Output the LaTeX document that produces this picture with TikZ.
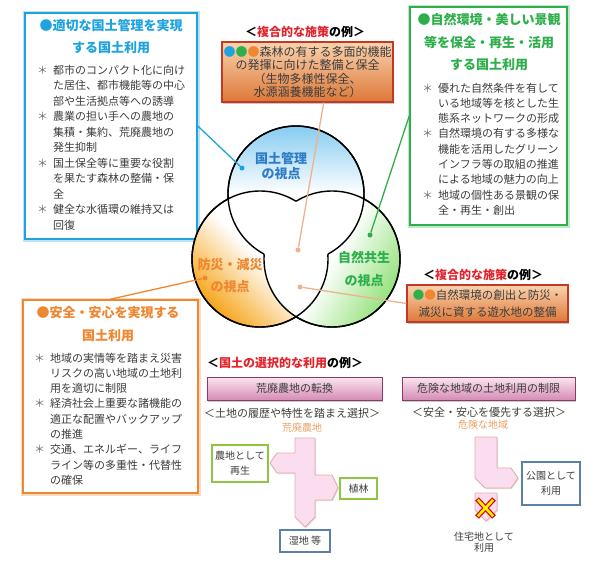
\documentclass[tikz,border=0pt]{standalone}
\usepackage{fontspec}
\setmainfont{Noto Sans CJK JP}
\usetikzlibrary{shadows}

\definecolor{kanriblue}{HTML}{1EA3DE}
\definecolor{kanritext}{HTML}{2F7CC6}
\definecolor{kanrisky}{HTML}{86CCF0}
\definecolor{shizengreen}{HTML}{2EAF4C}
\definecolor{shizenlight}{HTML}{96E27E}
\definecolor{bousaiorange}{HTML}{EF8630}
\definecolor{bousaisun}{HTML}{F6A51A}
\definecolor{bodygray}{HTML}{3C3C3C}
\definecolor{stargray}{HTML}{707070}
\definecolor{accentred}{HTML}{E3232C}
\definecolor{exampletop}{HTML}{FAD3AE}
\definecolor{examplebot}{HTML}{DD7838}
\definecolor{exampleline}{HTML}{C23A26}
\definecolor{btntop}{HTML}{FBE6F1}
\definecolor{btnbot}{HTML}{D68BB6}
\definecolor{btnline}{HTML}{8A3B63}
\definecolor{arrowfill}{HTML}{FBDDF0}
\definecolor{arrowline}{HTML}{E2ABA6}
\definecolor{landgreen}{HTML}{8DC63F}
\definecolor{landblue}{HTML}{5C80AA}
\definecolor{peach}{HTML}{EDB28E}
\definecolor{landlabel}{HTML}{E9A066}

\newcommand{\itm}{\makebox[16pt][l]{\color{stargray}＊}}
\newcommand{\cnt}{\hspace*{16pt}}

\tikzset{
 policybox/.style={draw=#1, line width=1.6pt, fill=white,
  preaction={draw=#1!30, line width=5pt}},
 heading/.style={align=center, inner sep=0pt, text=#1,
  font=\bfseries\fontsize{13}{22.5}\selectfont},
 itemlist/.style={anchor=north west, align=left, inner sep=0pt, text=bodygray,
  font=\fontsize{11}{15.3}\selectfont},
 examplebox/.style={draw=exampleline, line width=1.2pt,
  top color=exampletop, bottom color=examplebot,
  drop shadow={shadow xshift=1pt, shadow yshift=-1.5pt, opacity=0.45},
  align=center, inner sep=0pt, text=bodygray, font=\fontsize{12}{13.3}\selectfont},
 exhead/.style={inner sep=0pt, font=\bfseries\fontsize{12}{14}\selectfont},
 button/.style={draw=btnline, line width=1pt, top color=btntop, bottom color=btnbot,
  drop shadow={shadow xshift=1pt, shadow yshift=-1.5pt, opacity=0.4},
  minimum height=23pt, inner sep=0pt, text=bodygray, font=\fontsize{11}{13}\selectfont},
 landbox/.style={draw=#1, line width=1.3pt, fill=white, align=center, inner sep=0pt,
  text=bodygray, font=\fontsize{10}{15}\selectfont},
 landarrow/.style={fill=arrowfill, draw=arrowline, line width=0.8pt, line join=round,
  drop shadow={shadow xshift=1pt, shadow yshift=-1pt, opacity=0.25}},
 viewlabel/.style={align=center, inner sep=0pt, text=#1, font=\bfseries\fontsize{13}{15}\selectfont},
 viewdot/.style={circle, fill=#1, inner sep=0pt, minimum size=5pt},
 leader/.style={draw=#1, line width=1.3pt},
}

\begin{document}
\begin{tikzpicture}[x=1pt,y=-1pt]
\useasboundingbox (0,0) rectangle (605,563);

% three policy boxes
\node[policybox=kanriblue, minimum width=172pt, minimum height=226pt] (kanriBox) at (111,126) {};
\node[heading=kanriblue] (kanriTitle) at (111,36.5) {●適切な国土管理を実現\\する国土利用};
\node[itemlist, font=\fontsize{11}{15.5}\selectfont] (kanriList) at (37,64.5) {%
 \itm 都市のコンパクト化に向け\\
 \cnt た居住、都市機能等の中心\\
 \cnt 部や生活拠点等への誘導\\
 \itm 農業の担い手への農地の\\
 \cnt 集積・集約、荒廃農地の\\
 \cnt 発生抑制\\
 \itm 国土保全等に重要な役割\\
 \cnt を果たす森林の整備・保\\
 \cnt 全\\
 \itm 健全な水循環の維持又は\\
 \cnt 回復};

\node[policybox=shizengreen, minimum width=157pt, minimum height=218pt] (shizenBox) at (488.5,116) {};
\node[heading=shizengreen] (shizenTitle) at (489,42.5) {●自然環境・美しい景観\\等を保全・再生・活用\\する国土利用};
\node[itemlist] (shizenList) at (422,82.5) {%
 \itm 優れた自然条件を有して\\
 \cnt いる地域等を核とした生\\
 \cnt 態系ネットワークの形成\\
 \itm 自然環境の有する多様な\\
 \cnt 機能を活用したグリーン\\
 \cnt インフラ等の取組の推進\\
 \cnt による地域の魅力の向上\\
 \itm 地域の個性ある景観の保\\
 \cnt 全・再生・創出};

\node[policybox=bousaiorange, minimum width=175pt, minimum height=193pt] (bousaiBox) at (110.5,396.5) {};
\node[heading=bousaiorange] (bousaiTitle) at (108,324) {●安全・安心を実現する\\国土利用};
\node[itemlist] (bousaiList) at (34,352.5) {%
 \itm 地域の実情等を踏まえ災害\\
 \cnt リスクの高い地域の土地利\\
 \cnt 用を適切に制限\\
 \itm 経済社会上重要な諸機能の\\
 \cnt 適正な配置やバックアップ\\
 \cnt の推進\\
 \itm 交通、エネルギー、ライフ\\
 \cnt ライン等の多重性・代替性\\
 \cnt の確保};

% examples of combined measures
\node[exhead] (topHead) at (305,32) {＜{\color{accentred}複合的な施策}の例＞};
\node[examplebox, minimum width=171pt, minimum height=60pt] (topEx) at (307.5,72)
 {{\color{kanriblue}●}{\color{shizengreen}●}{\color{bousaiorange}●}森林の有する多面的機能\\
  の発揮に向けた整備と保全\\（生物多様性保全、\\水源涵養機能など）};
\node[exhead] (rightHead) at (483,275) {＜{\color{accentred}複合的な施策}の例＞};
\node[examplebox, minimum width=161pt, minimum height=37pt, font=\fontsize{11.5}{16.5}\selectfont] (rightEx) at (487.5,303.5)
 {{\color{shizengreen}●}{\color{bousaiorange}●}自然環境の創出と防災・\\減災に資する遊水地の整備};

% the three viewpoints
\def\rad{68}
\coordinate (kanriC) at (296,194);
\coordinate (bousaiC) at (260,259);
\coordinate (shizenC) at (332,259);
\shade[top color=kanrisky, bottom color=white, middle color=white] (kanriC) circle (\rad);
\shade[top color=white, bottom color=bousaisun, middle color=white, shading angle=-45] (bousaiC) circle (\rad);
\shade[top color=white, bottom color=shizenlight, middle color=white, shading angle=60] (shizenC) circle (\rad);
\foreach \a/\b in {kanriC/bousaiC, kanriC/shizenC, bousaiC/kanriC, bousaiC/shizenC, shizenC/kanriC, shizenC/bousaiC} {
 \begin{scope}[even odd rule]
  \clip (-20,-20) rectangle (640,600) (\b) circle (\rad);
  \draw[line width=1.4pt] (\a) circle (\rad);
 \end{scope}
}
\node[viewlabel=kanritext] (kanriView) at (281,165.5) {国土管理\\の視点};
\node[viewlabel=bousaiorange, font=\bfseries\fontsize{13}{22}\selectfont] (bousaiView) at (230,276) {防災・減災\\の視点};
\node[viewlabel=shizengreen, font=\bfseries\fontsize{13}{23}\selectfont] (shizenView) at (364,268.5) {自然共生\\の視点};

\node[viewdot=kanriblue] (kanriDot) at (242,168) {};
\node[viewdot=bousaiorange] (bousaiDot) at (205,278) {};
\node[viewdot=shizengreen] (shizenDot) at (370,235) {};
\node[viewdot=peach] (centerDot) at (298,250) {};
\node[viewdot=peach] (lowerDot) at (300,287) {};
\draw[leader=kanriblue] (kanriBox.east) -- (kanriDot);
\draw[leader=shizengreen] (shizenBox.west) -- (shizenDot);
\draw[leader=bousaiorange] (bousaiBox.north) -- (bousaiDot);
\draw[leader=peach] (topEx.-62) -- (centerDot);
\draw[leader=peach] (rightEx.west) -- (lowerDot);

% selective use of land
\node[exhead, anchor=west] (selectHead) at (207,363) {＜{\color{accentred}国土の選択的な利用}の例＞};
\node[button, minimum width=175pt] (farmBtn) at (294.5,388.5) {荒廃農地の転換};
\node[button, minimum width=173pt] (dangerBtn) at (488.5,388.5) {危険な地域の土地利用の制限};
\node[inner sep=0pt, text=bodygray, font=\fontsize{11}{13}\selectfont] (farmSub) at (292,413) {＜土地の履歴や特性を踏まえ選択＞};
\node[inner sep=0pt, text=bodygray, font=\fontsize{11}{13}\selectfont] (dangerSub) at (489,412) {＜安全・安心を優先する選択＞};
\node[inner sep=0pt, text=landlabel, font=\fontsize{10}{12}\selectfont] (farmLbl) at (302,428) {荒廃農地};
\node[inner sep=0pt, text=landlabel, font=\fontsize{10}{12}\selectfont] (dangerLbl) at (483,425) {危険な地域};

\filldraw[landarrow] (295,438) -- (315,438) -- (315,475) -- (332,475) -- (338,487.5) -- (332,500)
 -- (315,500) -- (315,517) -- (305,527) -- (295,517) -- (295,473) -- (277,473) -- (270,463)
 -- (277,453) -- (295,453) -- cycle;
\node[landbox=landgreen, minimum width=56pt, minimum height=37pt] (farmBox) at (240,463.5) {農地として\\再生};
\node[landbox=landgreen, minimum width=37pt, minimum height=21pt] (plantBox) at (358.5,488.5) {植林};
\node[landbox=landblue, minimum width=50pt, minimum height=22pt] (wetBox) at (305,541) {湿地 等};

\filldraw[landarrow] (475,437) -- (497,437) -- (497,468) -- (511,468) -- (518,478) -- (511,488)
 -- (485,488) -- (475,478) -- cycle;
\filldraw[landarrow] (475,493) -- (497,493) -- (497,510) -- (486,521) -- (475,510) -- cycle;
\draw[red!85!black, line width=5pt] (477,499) -- (494,517) (494,499) -- (477,517);
\draw[yellow, line width=2.6pt] (477.8,499.8) -- (493.2,516.2) (493.2,499.8) -- (477.8,516.2);
\node[landbox=landblue, minimum width=58pt, minimum height=43pt] (parkBox) at (551,483.5) {公園として\\利用};
\node[align=center, inner sep=0pt, text=bodygray, font=\fontsize{10}{11.5}\selectfont] (houseLbl) at (484,542) {住宅地として\\利用};
\end{tikzpicture}
\end{document}
